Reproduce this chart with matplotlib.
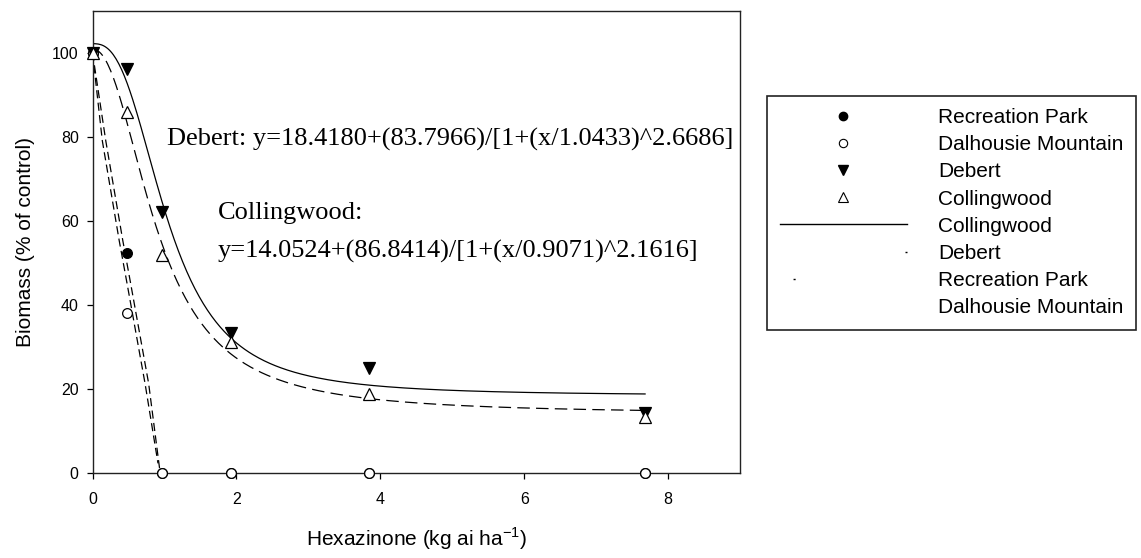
import numpy as np
import matplotlib
matplotlib.use("Agg")
import matplotlib.pyplot as plt
from matplotlib.lines import Line2D

# hexazinone rates (kg ai/ha) and biomass as % of the untreated control
doses = [0, 0.48, 0.96, 1.92, 3.84, 7.68]
recreation_park = [100, 52.5, 0, 0, 0, 0]
dalhousie_mtn = [100, 38, 0, 0, 0, 0]
debert = [100, 96.3, 62.1, 33.3, 24.9, 14.2]
collingwood = [100, 86, 52, 31.2, 18.9, 13.3]

# fitted lines for the two steep sites
rec_fit_x = [0, 0.136, 0.37, 0.48, 0.73, 0.91]
rec_fit_y = [100, 79.1, 55.4, 45.1, 21.3, 2.3]
dal_fit_x = [0, 0.184, 0.42, 0.53, 0.78, 0.94]
dal_fit_y = [100, 79.1, 55.4, 45.1, 21.3, 0]

# sigmoid parameters y0, a, x0, b  ->  y = y0 + a / (1 + (x/x0)^b)
debert_par = (18.4180, 83.7966, 1.0433, 2.6686)
coll_par = (14.0524, 86.8414, 0.9071, 2.1616)


def sigmoid(x, y0, a, x0, b):
    return y0 + a / (1 + (x / x0) ** b)


plt.rcParams['font.family'] = ['Liberation Sans', 'DejaVu Sans']
plt.rcParams['mathtext.fontset'] = 'custom'
plt.rcParams['mathtext.rm'] = 'Liberation Sans'

fig = plt.figure(figsize=(11.41, 5.58), dpi=100)
ax = fig.add_axes([0.0811, 0.1523, 0.5675, 0.828])

xs = np.linspace(0, 7.68, 400)
ax.plot(xs, sigmoid(xs, *debert_par), color='black', lw=0.9)
ax.plot(xs, sigmoid(xs, *coll_par), color='black', lw=0.9, dashes=(10, 5))
ax.plot(rec_fit_x, rec_fit_y, color='black', lw=0.9, dashes=(6.5, 3.5))
ax.plot(dal_fit_x, dal_fit_y, color='black', lw=0.9, dashes=(6.5, 3.5))

mk = dict(mew=0.9, ls='none', clip_on=False, zorder=5)
ax.plot(doses, recreation_park, marker='o', ms=7, color='black', mfc='black', **mk)
ax.plot(doses, dalhousie_mtn, marker='o', ms=7, color='black', mfc='white', **mk)
ax.plot(doses, debert, marker='v', ms=8, color='black', mfc='black', **mk)
ax.plot(doses, collingwood, marker='^', ms=8, color='black', mfc='white', **mk)

eq_font = dict(family='Liberation Serif', fontsize=19, va='center')
ax.text(1.04, 79.5, 'Debert: y=18.4180+(83.7966)/[1+(x/1.0433)^2.6686]', **eq_font)
ax.text(1.74, 62, 'Collingwood:', **eq_font)
ax.text(1.74, 52.8, 'y=14.0524+(86.8414)/[1+(x/0.9071)^2.1616]', **eq_font)

ax.set_xlim(0, 9)
ax.set_ylim(0, 110)
ax.set_xticks([0, 2, 4, 6, 8])
ax.set_yticks([0, 20, 40, 60, 80, 100])
ax.tick_params(direction='out', length=4, width=0.9, labelsize=11.5)
ax.tick_params(axis='x', pad=10)
ax.tick_params(axis='y', pad=6)
for s in ax.spines.values():
    s.set_linewidth(1.0)
    s.set_color('#222222')

ax.set_xlabel('Hexazinone (kg ai ha$^{\\mathregular{-1}}$)', fontsize=15, labelpad=13)
ax.set_ylabel('Biomass (% of control)', fontsize=15, labelpad=12)

handles = [
    Line2D([], [], marker='o', color='black', mfc='black', ms=6, ls='none'),
    Line2D([], [], marker='o', color='black', mfc='white', ms=6, mew=0.8, ls='none'),
    Line2D([], [], marker='v', color='black', mfc='black', ms=6.5, ls='none'),
    Line2D([], [], marker='^', color='black', mfc='white', ms=6.5, mew=0.8, ls='none'),
    Line2D([], [], color='black', lw=1),
    Line2D([], [], color='black', lw=1, ls=(110, (1.5, 198.5))),
    Line2D([], [], color='black', lw=1, ls=(190.6, (1.5, 198.5))),
    Line2D([], [], ls='none'),
]
labels = ['Recreation Park', 'Dalhousie Mountain', 'Debert', 'Collingwood',
          'Collingwood', 'Debert', 'Recreation Park', 'Dalhousie Mountain']
leg = fig.legend(handles, labels, loc='upper left',
                 bbox_to_anchor=(767 / 1141, 1 - 95.7 / 558),
                 borderaxespad=0, fontsize=15, handlelength=6.1,
                 handletextpad=1.5, labelspacing=0.39, borderpad=0.6,
                 fancybox=False, framealpha=1)
leg.get_frame().set_edgecolor('#222222')
leg.get_frame().set_linewidth(1.2)

fig.savefig('out.png', dpi=100)
